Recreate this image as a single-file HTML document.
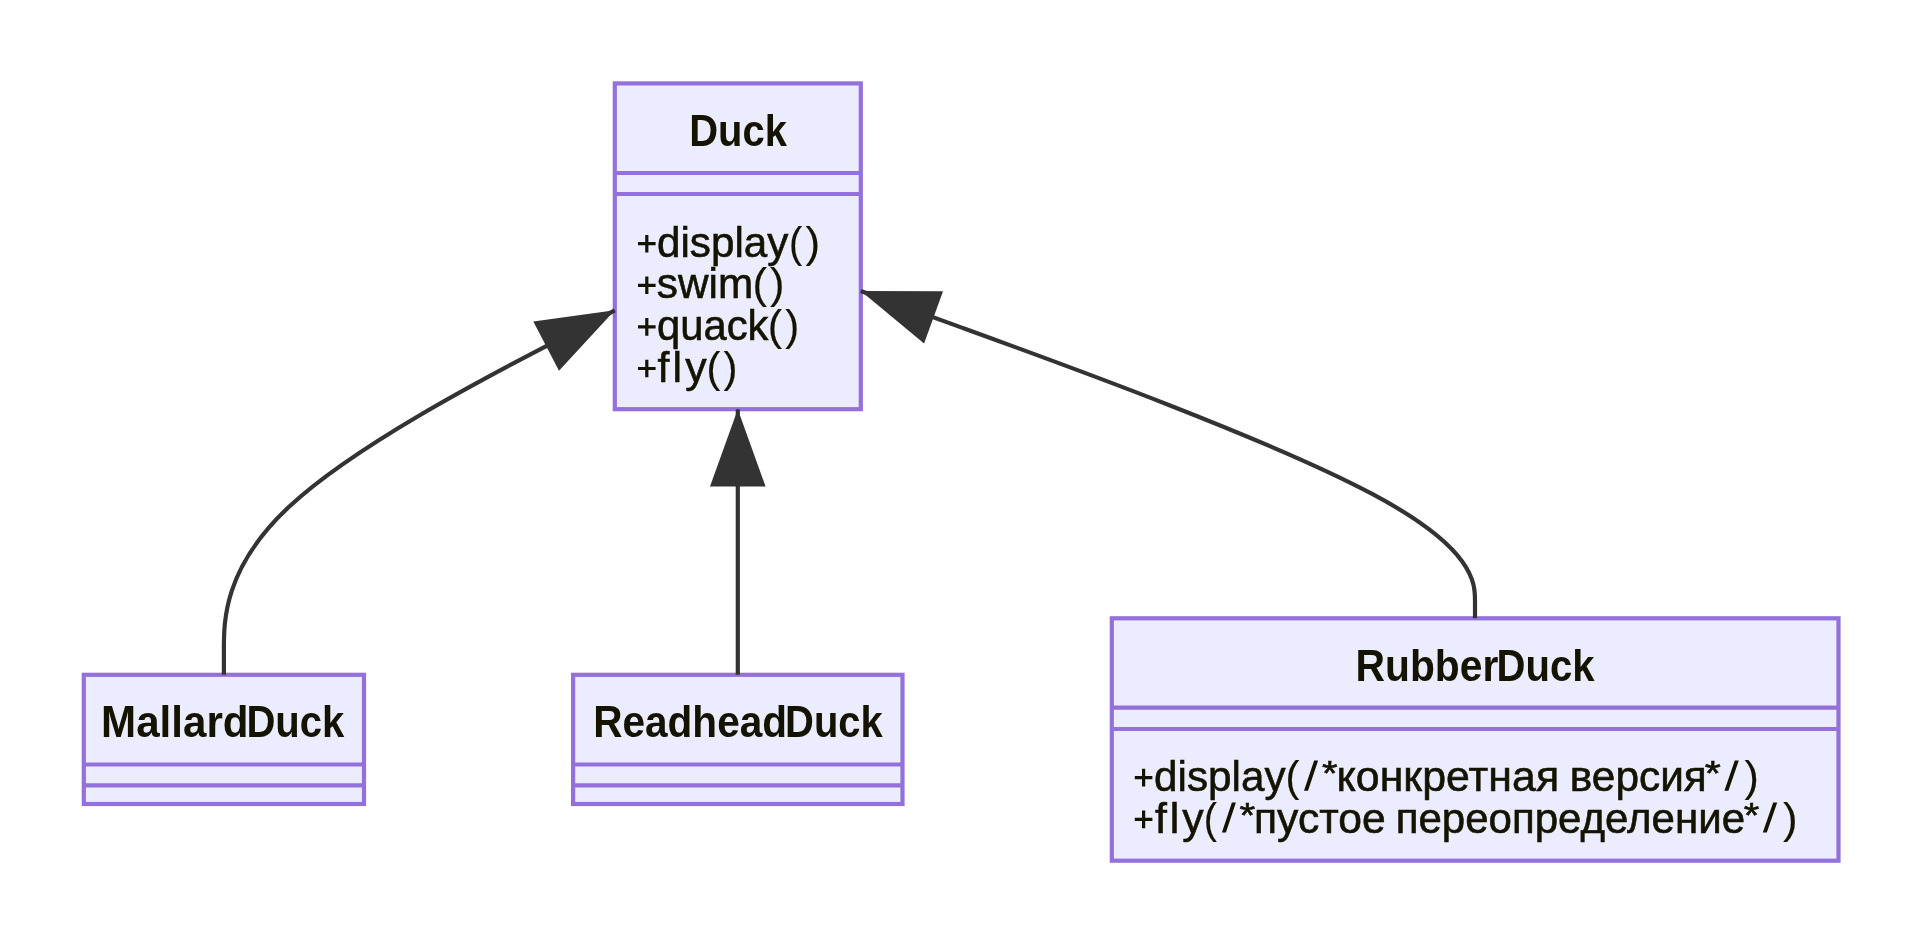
<!DOCTYPE html>
<html><head><meta charset="utf-8"><style>
html,body{margin:0;padding:0;background:#fff;width:1920px;height:945px;overflow:hidden}
svg{display:block;will-change:transform}
text{font-family:"Liberation Sans",sans-serif;fill:#131300;white-space:pre}
text.b{font-weight:bold;font-size:43.8px}
text.r{font-size:42.8px;stroke:#131300;stroke-width:0.6px}
</style></head><body>
<svg width="1920" height="945" viewBox="0 0 1920 945">
<rect x="614.8" y="83.4" width="246.00" height="325.80" fill="#ECECFF" stroke="#9370DB" stroke-width="4.19"/>
<path d="M614.8,173.0H860.8M614.8,194.0H860.8" stroke="#9370DB" stroke-width="4.19"/>
<rect x="83.8" y="674.8" width="280.20" height="129.20" fill="#ECECFF" stroke="#9370DB" stroke-width="4.19"/>
<path d="M83.8,764.5H364.0M83.8,785.3H364.0" stroke="#9370DB" stroke-width="4.19"/>
<rect x="573.1" y="674.8" width="329.40" height="129.20" fill="#ECECFF" stroke="#9370DB" stroke-width="4.19"/>
<path d="M573.1,764.5H902.5M573.1,785.3H902.5" stroke="#9370DB" stroke-width="4.19"/>
<rect x="1111.8" y="618.3" width="726.70" height="242.40" fill="#ECECFF" stroke="#9370DB" stroke-width="4.19"/>
<path d="M1111.8,707.7H1838.5M1111.8,729.0H1838.5" stroke="#9370DB" stroke-width="4.19"/>
<path d="M638.00,242.10h17.6v3.2h-17.6Z M645.20,234.90h3.2v17.6h-3.2Z M638.00,283.70h17.6v3.2h-17.6Z M645.20,276.50h3.2v17.6h-3.2Z M638.00,325.30h17.6v3.2h-17.6Z M645.20,318.10h3.2v17.6h-3.2Z M638.00,366.90h17.6v3.2h-17.6Z M645.20,359.70h3.2v17.6h-3.2Z M1134.80,776.00h17.6v3.2h-17.6Z M1142.00,768.80h3.2v17.6h-3.2Z M1134.80,817.80h17.6v3.2h-17.6Z M1142.00,810.60h3.2v17.6h-3.2Z M1304.00,790.70L1308.00,790.70L1318.10,760.60L1314.10,760.60Z M1724.40,790.70L1728.40,790.70L1738.75,760.60L1734.75,760.60Z M1221.90,832.50L1225.90,832.50L1235.90,802.40L1231.90,802.40Z M1762.80,832.50L1766.80,832.50L1777.20,802.40L1773.20,802.40Z" fill="#131300"/>
<text x="689.17" y="145.70" class="b" textLength="97.74" lengthAdjust="spacingAndGlyphs">Duck</text>
<text x="101.05" y="736.80" class="b" textLength="147.51" lengthAdjust="spacingAndGlyphs">Mallard</text>
<text x="246.40" y="736.80" class="b" textLength="97.96" lengthAdjust="spacingAndGlyphs">Duck</text>
<text x="593.21" y="736.80" class="b" textLength="193.83" lengthAdjust="spacingAndGlyphs">Readhead</text>
<text x="785.09" y="736.80" class="b" textLength="97.67" lengthAdjust="spacingAndGlyphs">Duck</text>
<text x="1355.56" y="680.70" class="b" textLength="142.75" lengthAdjust="spacingAndGlyphs">Rubber</text>
<text x="1496.53" y="680.70" class="b" textLength="98.05" lengthAdjust="spacingAndGlyphs">Duck</text>
<text x="656.98" y="256.80" class="r" textLength="131.40" lengthAdjust="spacingAndGlyphs">display</text>
<text x="789.07" y="256.80" class="r" style="stroke-width:0.15px" textLength="13.22" lengthAdjust="spacingAndGlyphs">(</text>
<text x="805.53" y="256.80" class="r" style="stroke-width:0.15px" textLength="14.67" lengthAdjust="spacingAndGlyphs">)</text>
<text x="656.74" y="298.40" class="r" textLength="96.46" lengthAdjust="spacingAndGlyphs">swim</text>
<text x="752.45" y="298.40" class="r" style="stroke-width:0.15px" textLength="14.58" lengthAdjust="spacingAndGlyphs">(</text>
<text x="770.05" y="298.40" class="r" style="stroke-width:0.15px" textLength="14.45" lengthAdjust="spacingAndGlyphs">)</text>
<text x="657.05" y="340.00" class="r" textLength="111.46" lengthAdjust="spacingAndGlyphs">quack</text>
<text x="767.84" y="340.00" class="r" style="stroke-width:0.15px" textLength="14.40" lengthAdjust="spacingAndGlyphs">(</text>
<text x="785.36" y="340.00" class="r" style="stroke-width:0.15px" textLength="13.98" lengthAdjust="spacingAndGlyphs">)</text>
<text x="657.48" y="381.60" class="r" textLength="49.24" lengthAdjust="spacing">fly</text>
<text x="706.49" y="381.60" class="r" style="stroke-width:0.15px" textLength="13.92" lengthAdjust="spacingAndGlyphs">(</text>
<text x="723.48" y="381.60" class="r" style="stroke-width:0.15px" textLength="14.00" lengthAdjust="spacingAndGlyphs">)</text>
<text x="1154.11" y="790.70" class="r" textLength="131.40" lengthAdjust="spacingAndGlyphs">display</text>
<text x="1285.60" y="790.70" class="r" style="stroke-width:0.15px" textLength="13.95" lengthAdjust="spacingAndGlyphs">(</text>
<text x="1322.08" y="785.29" class="r" style="font-size:35.5px" textLength="15.55" lengthAdjust="spacingAndGlyphs">*</text>
<text x="1336.44" y="790.70" class="r" textLength="222.63" lengthAdjust="spacing">конкретная</text>
<text x="1569.84" y="790.70" class="r" textLength="136.90" lengthAdjust="spacingAndGlyphs">версия</text>
<text x="1704.83" y="785.29" class="r" style="font-size:35.5px" textLength="16.08" lengthAdjust="spacingAndGlyphs">*</text>
<text x="1744.55" y="790.70" class="r" style="stroke-width:0.15px" textLength="14.33" lengthAdjust="spacingAndGlyphs">)</text>
<text x="1155.05" y="832.50" class="r" textLength="48.59" lengthAdjust="spacing">fly</text>
<text x="1203.81" y="832.50" class="r" style="stroke-width:0.15px" textLength="13.29" lengthAdjust="spacingAndGlyphs">(</text>
<text x="1239.58" y="827.09" class="r" style="font-size:35.5px" textLength="15.73" lengthAdjust="spacingAndGlyphs">*</text>
<text x="1254.04" y="832.50" class="r" textLength="131.53" lengthAdjust="spacingAndGlyphs">пустое</text>
<text x="1395.65" y="832.50" class="r" textLength="349.42" lengthAdjust="spacingAndGlyphs">переопределение</text>
<text x="1743.88" y="827.09" class="r" style="font-size:35.5px" textLength="15.57" lengthAdjust="spacingAndGlyphs">*</text>
<text x="1783.10" y="832.50" class="r" style="stroke-width:0.15px" textLength="14.58" lengthAdjust="spacingAndGlyphs">)</text>
<path d="M223.90,674.80 L223.90,647.98 C223.90,621.17 223.90,567.53 289.05,506.79 C354.20,446.05 484.50,378.20 549.65,344.27 L614.80,310.35" fill="none" stroke="#333333" stroke-width="4.19"/>
<polygon points="614.80,310.35 558.99,370.75 533.31,321.44" fill="#333333"/>
<path d="M737.80,674.80 L737.80,647.98 C737.80,621.17 737.80,567.53 737.80,523.27 C737.80,479.00 737.80,444.10 737.80,426.65 L737.80,409.20" fill="none" stroke="#333333" stroke-width="4.19"/>
<polygon points="737.80,409.20 765.60,486.60 710.00,486.60" fill="#333333"/>
<path d="M1475.00,618.30 L1475.00,600.90 C1475.00,583.50 1475.00,548.70 1372.63,494.14 C1270.27,439.58 1065.53,365.27 963.17,328.11 L860.80,290.95" fill="none" stroke="#333333" stroke-width="4.19"/>
<polygon points="860.80,290.95 943.04,291.23 924.07,343.49" fill="#333333"/>
</svg>
</body></html>
